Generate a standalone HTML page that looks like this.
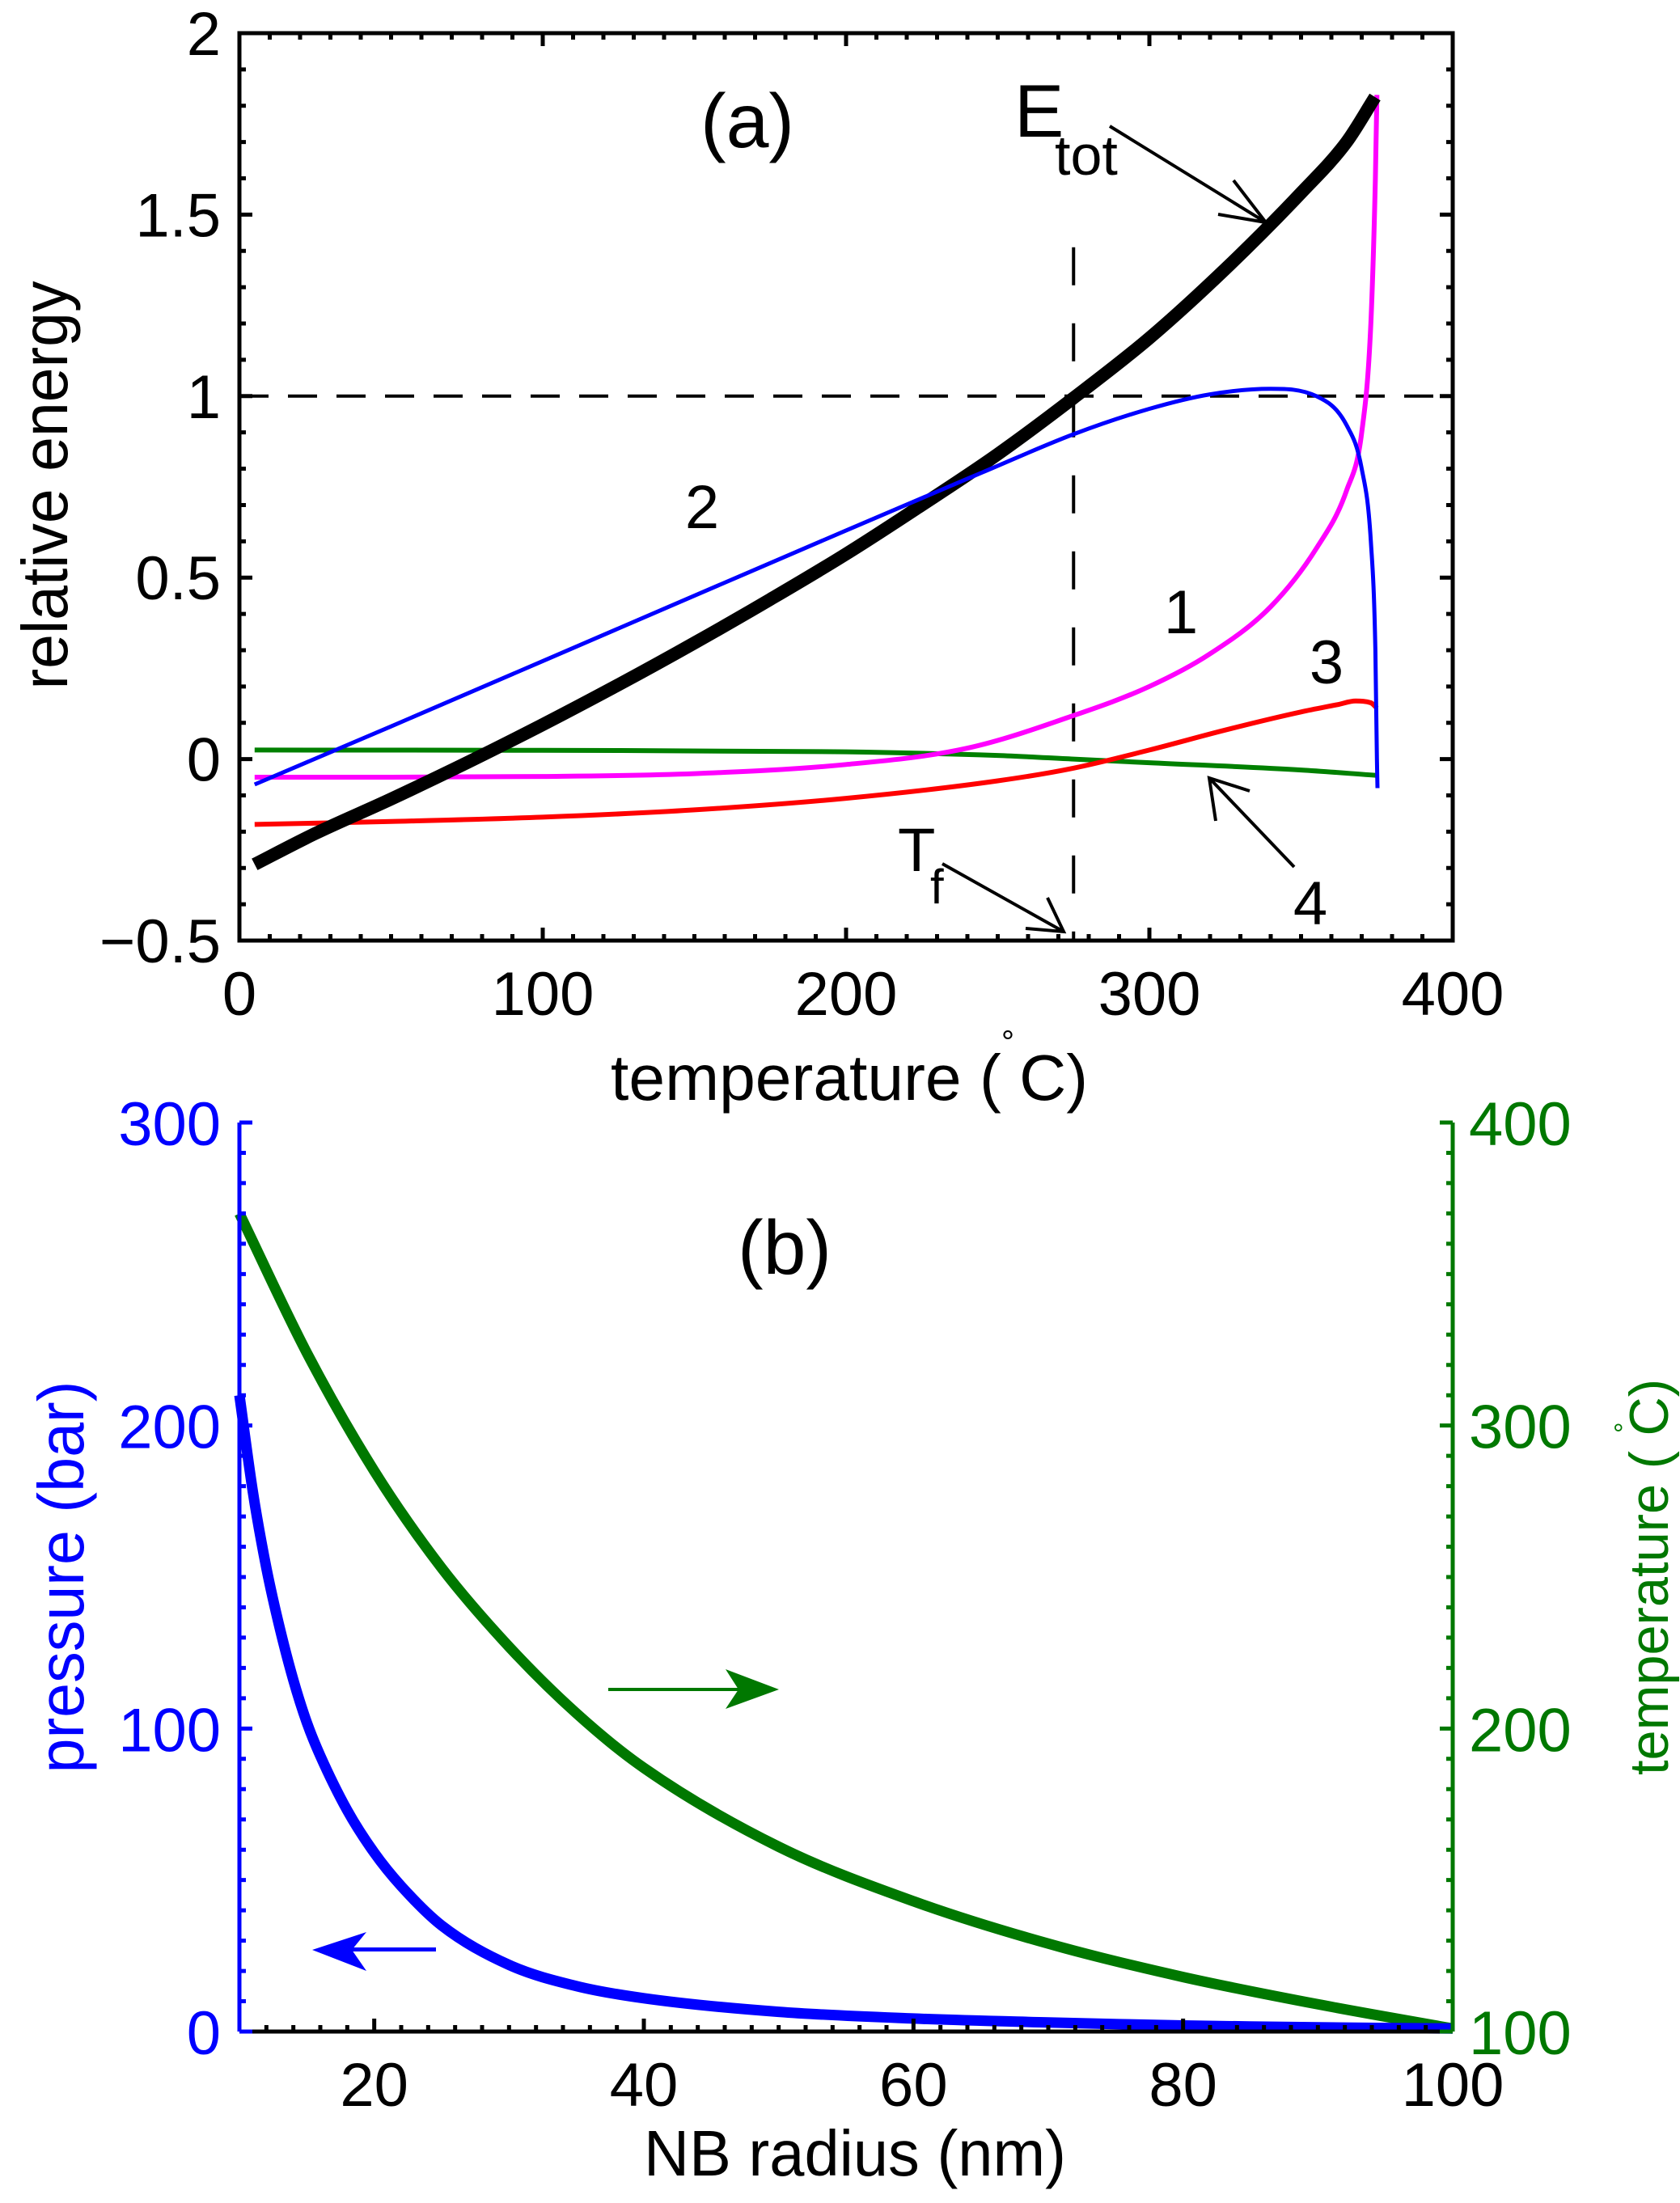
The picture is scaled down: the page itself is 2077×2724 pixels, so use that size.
<!DOCTYPE html>
<html><head><meta charset="utf-8"><style>
html,body{margin:0;padding:0;background:#fff}
svg{display:block}
text{font-family:"Liberation Sans",sans-serif}
</style></head><body>
<svg id="fig" xmlns="http://www.w3.org/2000/svg" width="2077" height="2724" viewBox="0 0 2077 2724">
<g id="pa"></g>
<g id="pb"></g>
</svg>
<script>
// ---- Panel (a) data ----
const aTicksX = [0,100,200,300,400];
const aTicksY = [-0.5,0,0.5,1,1.5,2];
const aTickLabelsY = ["\u22120.5","0","0.5","1","1.5","2"];
const etotT = [5,25,50,75,100,125,150,175,200,225,250,275,300,325,350,365,374.4];
const etotE = [-0.29,-0.205,-0.11,-0.01,0.095,0.205,0.32,0.44,0.565,0.70,0.84,0.995,1.16,1.35,1.56,1.70,1.824];
const c2T = [5,50,100,150,200,245,275,300,320,340,355,365,370,373,374.5,375,375.2];
const c2E = [-0.07,0.09,0.27,0.45,0.63,0.79,0.895,0.965,1.005,1.02,1.0,0.92,0.80,0.6,0.3,0.0,-0.08];
const c1T = [5,50,100,150,200,240,275,300,320,340,355,365,370,373,374.5,375];
const c1E = [-0.05,-0.05,-0.048,-0.04,-0.015,0.03,0.12,0.2,0.29,0.42,0.58,0.74,0.9,1.2,1.6,1.83];
const c3T = [5,50,100,150,200,250,275,300,325,350,362,368,373,375];
const c3E = [-0.18,-0.172,-0.16,-0.14,-0.108,-0.06,-0.025,0.025,0.08,0.13,0.15,0.16,0.155,0.14];
const c4T = [5,100,200,250,275,300,350,375];
const c4E = [0.025,0.024,0.02,0.01,0.0,-0.01,-0.03,-0.045];
const refE = 1;
const refT = 275;

// ---- Panel (b) data ----
const bTicksX = [20,40,60,80,100];
const bTicksP = [0,100,200,300];
const bTicksT = [100,200,300,400];
const presR = [10,11,12,13,14,15,16,18,20,22,25,30,35,40,50,60,70,80,90,100];
const presP = [210,178,153,133,116,102,91,73,59,48,35,22,15,11,6.5,4.3,3,2,1.4,1];
const tempR = [10,15,20,25,30,35,40,50,60,70,80,90,100];
const tempT = [370,324,285,253,227,205,187,161,143,129,118,109,101];

const NS="http://www.w3.org/2000/svg";
function mk(parent,tag,attrs,text){const e=document.createElementNS(NS,tag);for(const k in attrs)e.setAttribute(k,attrs[k]);if(text!==undefined)e.textContent=text;parent.appendChild(e);return e;}

const AL=296,AR=1796,AT=41,AB=1163;
const ax=t=>AL+(t-0)/400*(AR-AL);
const ay=e=>AT+(2-e)/2.5*(AB-AT);
const pa=document.getElementById('pa');
function smoothPath(px,py){
  const n=px.length;const d=[],m=new Array(n).fill(0);
  for(let i=0;i<n-1;i++)d.push((py[i+1]-py[i])/(px[i+1]-px[i]));
  m[0]=d[0];m[n-1]=d[n-2];
  for(let i=1;i<n-1;i++){m[i]=(d[i-1]*d[i]<=0)?0:(d[i-1]+d[i])/2;}
  for(let i=0;i<n-1;i++){if(d[i]===0){m[i]=0;m[i+1]=0;continue;}const a=m[i]/d[i],b=m[i+1]/d[i],s=a*a+b*b;if(s>9){const t=3/Math.sqrt(s);m[i]=t*a*d[i];m[i+1]=t*b*d[i];}}
  let s='M'+px[0].toFixed(1)+' '+py[0].toFixed(1);
  for(let i=0;i<n-1;i++){const h=(px[i+1]-px[i])/3;
    s+=` C${(px[i]+h).toFixed(1)} ${(py[i]+m[i]*h).toFixed(1)} ${(px[i+1]-h).toFixed(1)} ${(py[i+1]-m[i+1]*h).toFixed(1)} ${px[i+1].toFixed(1)} ${py[i+1].toFixed(1)}`;}
  return s;
}
function poly(parent,xs,ys,fx,fy,color,w,name){
  const d=smoothPath(xs.map(fx),ys.map(fy));
  const p=mk(parent,'path',{d:d,fill:'none',stroke:color,'stroke-width':w,'stroke-linejoin':'round','stroke-linecap':'butt'});
  
  
  return p;
}
let l=mk(pa,'line',{x1:AL,x2:AR,y1:ay(refE),y2:ay(refE),stroke:'#000','stroke-width':4,'stroke-dasharray':'36,24'});


l=mk(pa,'line',{x1:ax(refT),x2:ax(refT),y1:ay(1.41),y2:AB,stroke:'#000','stroke-width':4,'stroke-dasharray':'47,47'});


poly(pa,c4T,c4E,ax,ay,'#008000',6,'curve-4');
poly(pa,c3T,c3E,ax,ay,'#ff0000',6,'curve-3');
poly(pa,c1T,c1E,ax,ay,'#ff00ff',6,'curve-1');
poly(pa,etotT,etotE,ax,ay,'#000',16,'curve-etot');
poly(pa,c2T,c2E,ax,ay,'#0000ff',5,'curve-2');
let r=mk(pa,'rect',{x:AL,y:AT,width:AR-AL,height:AB-AT,fill:'none',stroke:'#000','stroke-width':5});


let tk='';
for(let t=0;t<=400;t+=10){const maj=t%100===0;const L=maj?16:8;const x=ax(t);tk+=`M${x} ${AB}V${AB-L}M${x} ${AT}V${AT+L}`;}
for(let k=-5;k<=20;k++){const e=k/10;const maj=k%5===0;const L=maj?16:8;const y=ay(e);tk+=`M${AL} ${y}H${AL+L}M${AR} ${y}H${AR-L}`;}
let p=mk(pa,'path',{d:tk,stroke:'#000','stroke-width':5,fill:'none'});


aTicksX.forEach(t=>{const e=mk(pa,'text',{x:ax(t),y:1255,'font-size':76,'text-anchor':'middle'},String(t));

});
aTicksY.forEach((v,i)=>{const e=mk(pa,'text',{x:273,y:ay(v)+27,'font-size':76,'text-anchor':'end'},aTickLabelsY[i]);

});

const BL=296,BR=1796,BT=1388,BB=2512;
const bx=v=>BL+(v-10)/90*(BR-BL);
const byP=v=>BB-(v/300)*(BB-BT);
const byT=v=>BB-((v-100)/300)*(BB-BT);
const pb=document.getElementById('pb');
poly(pb,tempR,tempT,bx,byT,'#007800',13,'temperature-curve');
poly(pb,presR,presP,bx,byP,'#0000ff',13,'pressure-curve');
let tb='';
for(let v=10;v<=100;v+=2){const maj=v%20===0;const L=maj?16:8;tb+=`M${bx(v)} ${BB}V${BB-L}`;}
p=mk(pb,'path',{d:tb+`M${BL} ${BB}H${BR}`,stroke:'#000','stroke-width':5,fill:'none'});


let tl='';
for(let v=0;v<=300;v+=10){const maj=v%100===0;const L=maj?16:8;tl+=`M${BL} ${byP(v)}H${BL+L}`;}
p=mk(pb,'path',{d:tl+`M${BL} ${BT}V${BB}`,stroke:'#0000ff','stroke-width':5,fill:'none'});


let tr='';
for(let v=100;v<=400;v+=10){const maj=v%100===0;const L=maj?16:8;tr+=`M${BR} ${byT(v)}H${BR-L}`;}
p=mk(pb,'path',{d:tr+`M${BR} ${BT}V${BB}`,stroke:'#007800','stroke-width':5,fill:'none'});


bTicksX.forEach(v=>{const e=mk(pb,'text',{x:bx(v),y:2604,'font-size':76,'text-anchor':'middle'},String(v));

});
bTicksP.forEach(v=>{const e=mk(pb,'text',{x:273,y:byP(v)+28,'font-size':76,'text-anchor':'end',fill:'#0000ff'},String(v));

});
bTicksT.forEach(v=>{const e=mk(pb,'text',{x:1816,y:byT(v)+28,'font-size':76,'text-anchor':'start',fill:'#007800'},String(v));

});
</script>
<svg style="position:absolute;left:0;top:0" width="2077" height="2724" viewBox="0 0 2077 2724">
<text x="924" y="182" font-size="95" text-anchor="middle">(a)</text>
<text x="1254" y="169" font-size="92">E<tspan x="1304" y="216" font-size="70">tot</tspan></text>
<g stroke="#000" stroke-width="4" fill="none"><path d="M1372 156L1565 275M1525 223L1565 275L1506 265"/></g>
<text x="868" y="653" font-size="76" text-anchor="middle">2</text>
<text x="1460" y="783" font-size="76" text-anchor="middle">1</text>
<text x="1640" y="845" font-size="76" text-anchor="middle">3</text>
<text x="1620" y="1143" font-size="76" text-anchor="middle">4</text>
<g stroke="#000" stroke-width="4" fill="none"><path d="M1600 1072L1495 962M1503 1015L1495 962L1545 978"/></g>
<text x="1110" y="1077" font-size="76">T<tspan x="1150" y="1117" font-size="60">f</tspan></text>
<g stroke="#000" stroke-width="4" fill="none"><path d="M1165 1068L1315 1152M1295 1110L1315 1152L1268 1148"/></g>
<text x="1050" y="1360" font-size="80" text-anchor="middle" textLength="590" lengthAdjust="spacingAndGlyphs">temperature (  C)</text>
<text x="1238" y="1302" font-size="40">°</text>
<text transform="translate(83,600) rotate(-90)" font-size="80" text-anchor="middle" textLength="505" lengthAdjust="spacingAndGlyphs">relative energy</text>
<text x="970" y="1575" font-size="95" text-anchor="middle">(b)</text>
<g fill="#007800"><path d="M752 2087H915V2091H752Z"/><path d="M963 2089L897 2064L913 2089L897 2113Z"/></g>
<g fill="#0000ff"><path d="M430 2408H539V2413H430Z"/><path d="M386 2411L453 2389L435 2411L453 2437Z"/></g>
<text x="1057" y="2690" font-size="80" text-anchor="middle" textLength="522" lengthAdjust="spacingAndGlyphs">NB radius (nm)</text>
<text transform="translate(103,1950) rotate(-90)" font-size="80" text-anchor="middle" textLength="485" lengthAdjust="spacingAndGlyphs" fill="#0000ff">pressure (bar)</text>
<text transform="translate(2062,1950) rotate(-90)" font-size="68" text-anchor="middle" textLength="490" lengthAdjust="spacingAndGlyphs" fill="#007800">temperature (  C)</text>
<text transform="translate(2020,1772) rotate(-90)" font-size="34" fill="#007800">°</text>
</svg>
</body></html>
